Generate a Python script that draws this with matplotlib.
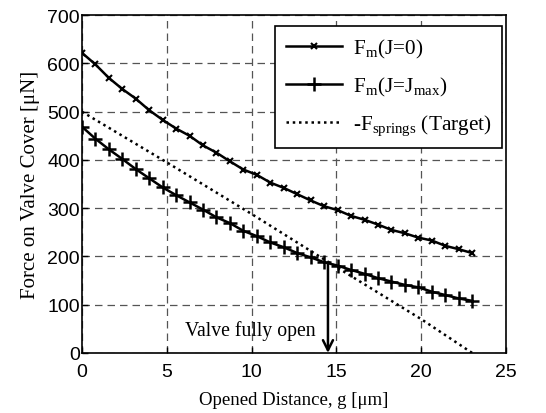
import matplotlib
matplotlib.use("Agg")
import matplotlib.pyplot as plt
import numpy as np

g = np.linspace(0, 23, 30)
f_j0 = [622, 598, 570, 547, 527, 503, 483, 465, 450, 430, 415, 397, 380, 369, 353,
        342, 329, 316, 304, 296, 284, 276, 266, 255, 248, 239, 233, 222, 215, 207]
f_jmax = [469, 444, 422, 402, 381, 362, 343, 327, 312, 297, 281, 269, 253, 242, 229,
          219, 207, 198, 188, 181, 172, 164, 155, 148, 141, 136, 127, 120, 113, 108]
g_spr = [0, 5, 10, 15, 20, 23]
f_spr = [500, 395, 288, 178, 70, 0]
g_open = 14.5
f_open = 186

serif = ['Liberation Serif', 'DejaVu Serif']
sans = ['Liberation Sans', 'DejaVu Sans']

fig = plt.figure(figsize=(5.46, 4.14), dpi=100)
ax = fig.add_axes([0.150, 0.145, 0.777, 0.816])

ax.plot(g, f_j0, color='black', lw=1.8, marker='x', ms=5, mew=1.5,
        label=r'F$_{\mathregular{m}}$(J=0)')
ax.plot(g, f_jmax, color='black', lw=1.8, marker='+', ms=10, mew=1.8,
        label=r'F$_{\mathregular{m}}$(J=J$_{\mathregular{max}}$)')
ax.plot(g_spr, f_spr, color='black', lw=1.8, ls=(0, (1, 1.5)),
        label=r'-F$_{\mathregular{springs}}$ (Target)')

ax.annotate('', xy=(g_open, 0), xytext=(g_open, f_open),
            arrowprops=dict(arrowstyle='->', color='black', lw=1.8,
                            mutation_scale=18, shrinkA=0, shrinkB=0))
ax.text(13.75, 48, 'Valve fully open', ha='right', va='center',
        fontsize=14.2, family=serif)

ax.set_xlim(0, 25)
ax.set_ylim(0, 700)
ax.set_xticks([0, 5, 10, 15, 20, 25])
ax.set_yticks([0, 100, 200, 300, 400, 500, 600, 700])
ax.grid(True, color='#555555', ls=(0, (6, 4)), lw=0.9)
for lab in ax.get_xticklabels() + ax.get_yticklabels():
    lab.set_family(sans)
    lab.set_fontsize(14)
ax.tick_params(direction='in', length=4, width=1)
ax.tick_params(axis='x', pad=7)
ax.tick_params(axis='y', pad=1.5)
for s in ax.spines.values():
    s.set_linewidth(1.2)

ax.set_xlabel('Opened Distance, g [\u03bcm]', fontsize=13.5, family=serif, labelpad=8)
ax.set_ylabel('Force on Valve Cover [\u03bcN]', fontsize=15, family=serif, labelpad=5)

leg = ax.legend(loc='upper right', prop={'family': serif, 'size': 15.3},
                fancybox=False, framealpha=1, edgecolor='black',
                handlelength=2.66, handletextpad=0.5, borderpad=0.5,
                labelspacing=0.7, borderaxespad=0,
                bbox_to_anchor=(0.9906, 0.967))
leg.get_frame().set_linewidth(1.2)

fig.savefig('out.png', dpi=100)
